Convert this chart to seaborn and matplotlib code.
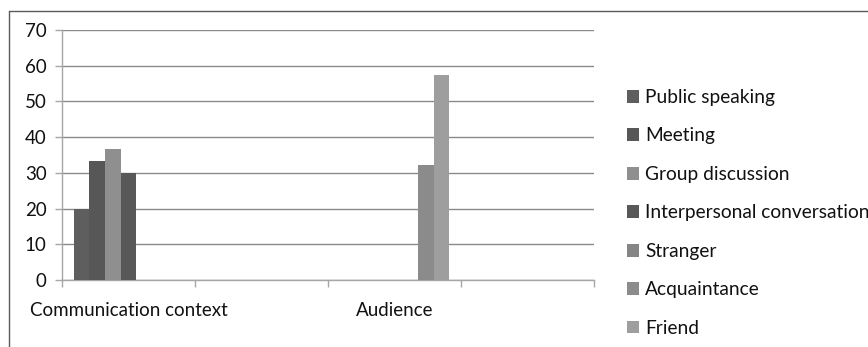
import matplotlib
matplotlib.use("Agg")
import matplotlib.pyplot as plt
from matplotlib.lines import Line2D
from matplotlib.patches import Patch
import numpy as np
import pandas as pd
import seaborn as sns

# Category slots along the x axis (every other label is left blank)
categories = ["Communication context", " ", "Audience", "  "]

# Series and their values per category
series = ["Public speaking", "Meeting", "Group discussion",
          "Interpersonal conversation", "Stranger", "Acquaintance", "Friend"]
communication_values = [20.0, 33.3, 36.7, 30.0]      # first four series
audience_values = [0.0, 32.3, 57.4]                   # last three series

colors = ["#5e5e5e", "#575757", "#8f8f8f", "#585858",
          "#858585", "#8b8b8b", "#9e9e9e"]

y_ticks = [0, 10, 20, 30, 40, 50, 60, 70]

rows = []
for s, v in zip(series[:4], communication_values):
    rows.append({"category": categories[0], "series": s, "value": v})
for s, v in zip(series[4:], audience_values):
    rows.append({"category": categories[2], "series": s, "value": v})
df = pd.DataFrame(rows)

sns.set_theme(style="white")
plt.rcParams["font.family"] = ["Lato", "DejaVu Sans"]

FS = 13.5

fig = plt.figure(figsize=(8.68, 3.47), dpi=100)
ax = fig.add_axes([62 / 868, 1 - 280 / 347, (594 - 62) / 868, 250 / 347])

palette = dict(zip(series, colors))
sns.barplot(data=df, x="category", y="value", hue="series",
            order=categories, hue_order=series, palette=palette,
            width=7 / 8.5, gap=0, linewidth=0, saturation=1,
            legend=False, ax=ax, zorder=3)

ax.set_xlim(-0.5, len(categories) - 0.5)
ax.set_ylim(0, 70)
ax.set_yticks(y_ticks)
ax.yaxis.grid(True, color="#8a8a8a", linewidth=1.0, zorder=0)
ax.set_axisbelow(True)
ax.set_xlabel("")
ax.set_ylabel("")

for side in ["top", "right"]:
    ax.spines[side].set_visible(False)
for side in ["left", "bottom"]:
    ax.spines[side].set_color("#a6a6a6")
    ax.spines[side].set_linewidth(1.0)

# Category boundary ticks below the x axis, labels centred in each slot
ax.set_xticks(np.arange(len(categories)))
ax.set_xticklabels(categories, fontsize=FS, color="#111111")
ax.tick_params(axis="x", which="major", length=0, pad=16)
ax.set_xticks(np.arange(len(categories) + 1) - 0.5, minor=True)
ax.tick_params(axis="x", which="minor", length=5, width=1.0,
               color="#a6a6a6", direction="out", bottom=True)
ax.tick_params(axis="y", which="major", length=5, width=1.0,
               color="#a6a6a6", direction="out", left=True,
               labelsize=FS, labelcolor="#111111", pad=6)

# Legend on the right
handles = [Patch(facecolor=c, edgecolor="none") for c in colors]
fig.legend(handles, series, loc="upper left",
           bbox_to_anchor=(627 / 868, 1 - 89 / 347),
           frameon=False, fontsize=13.8, labelcolor="#111111",
           handlelength=0.65, handleheight=0.65, handletextpad=0.3,
           labelspacing=1.12, borderaxespad=0, borderpad=0)

# Chart area border along the top and left
fig.add_artist(Line2D([9 / 868, 1.0], [1 - 11 / 347, 1 - 11 / 347],
                      transform=fig.transFigure, color="#5a5a5a", linewidth=1.0))
fig.add_artist(Line2D([9 / 868, 9 / 868], [0.0, 1 - 11 / 347],
                      transform=fig.transFigure, color="#5a5a5a", linewidth=1.0))

fig.savefig("out.png", dpi=100)
